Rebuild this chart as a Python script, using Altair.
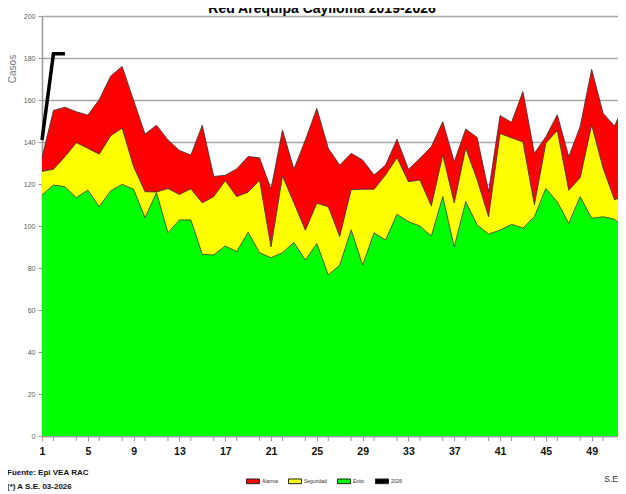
import altair as alt
import pandas as pd

# ---- data ----
weeks = list(range(1, 53))
exito = [114.8, 119.5, 118.7, 113.5, 117.1, 109.2, 116.8, 119.8, 117.5, 104.0,
         115.9, 96.8, 102.9, 102.9, 86.5, 86.2, 90.5, 87.8, 97.0, 87.3,
         84.9, 87.3, 92.2, 83.8, 91.7, 76.7, 81.4, 98.2, 81.4, 96.8,
         93.3, 105.6, 102.1, 100.0, 95.2, 114.0, 90.0, 111.6, 100.5, 96.2,
         98.0, 100.8, 99.0, 104.4, 117.9, 111.5, 101.3, 114.0, 103.7, 104.4,
         103.2, 98.9]
seguridad = [126.0, 127.0, 133.0, 139.7, 137.0, 134.2, 143.0, 146.6, 128.2, 116.3,
             116.2, 117.8, 115.0, 117.7, 111.0, 114.0, 121.6, 114.0, 116.1, 121.8,
             90.0, 123.8, 111.0, 98.0, 110.8, 109.2, 95.0, 117.3, 117.5, 117.5,
             124.3, 132.5, 121.1, 121.9, 109.5, 133.8, 111.0, 137.0, 122.0, 104.4,
             144.0, 142.0, 140.0, 110.0, 139.4, 145.5, 117.0, 123.0, 148.1, 127.5,
             112.4, 114.8]
alarma = [132.7, 155.0, 156.6, 154.4, 152.8, 160.2, 171.4, 176.0, 159.8, 143.8,
          148.0, 141.0, 136.0, 133.8, 148.0, 123.6, 124.2, 127.2, 133.1, 132.5,
          117.6, 145.7, 127.1, 141.0, 156.0, 137.0, 129.0, 134.6, 131.4, 124.3,
          129.0, 141.3, 127.0, 132.2, 137.8, 149.7, 130.6, 146.2, 142.2, 116.5,
          152.6, 149.4, 164.0, 134.6, 142.5, 153.0, 133.0, 147.5, 174.6, 153.7,
          147.6, 160.0]
weeks_2026 = [1, 2, 3]
casos_2026 = [141, 182, 182]

series_names = ["Alarma", "Seguridad", "Exito", "2026"]
series_colors = ["#ff0000", "#ffff00", "#00ff00", "#000000"]
x_label_values = list(range(1, 52, 2))
tick_weeks = list(range(2, 52, 2))

# ---- tables ----
rows = []
for i, w in enumerate(weeks):
    rows.append({"se": w, "serie": "Exito", "lo": 0.0, "hi": exito[i]})
    rows.append({"se": w, "serie": "Seguridad", "lo": exito[i], "hi": seguridad[i]})
    rows.append({"se": w, "serie": "Alarma", "lo": seguridad[i], "hi": alarma[i]})
bands = pd.DataFrame(rows)
line26 = pd.DataFrame({"se": weeks_2026, "casos": casos_2026})
ticks = pd.DataFrame({"se": tick_weeks})

FONT = "Liberation Sans, Arial, sans-serif"

xscale = alt.Scale(domain=[1, 51.3], nice=False, zero=False)
yscale = alt.Scale(domain=[0, 200], nice=False)

x_axis = alt.Axis(values=x_label_values, title=None, grid=False,
                  domainColor="#9a9a9a", domainWidth=1.5,
                  tickColor="#9a9a9a", tickSize=5, labelFont=FONT, labelFontSize=10.5,
                  labelFontWeight="bold", labelColor="#111", labelPadding=5,
                  labelFlush=False, labelOverlap=False, format="d")
y_axis = alt.Axis(values=list(range(0, 201, 20)), title=None, grid=True,
                  gridColor="#a6a6a6", gridWidth=1.6, domainColor="#9a9a9a",
                  domainWidth=1.5, tickColor="#9a9a9a", tickSize=4,
                  labelFont=FONT, labelFontSize=7, labelColor="#595959", labelPadding=3)

legend = alt.Legend(orient="none", legendX=204, legendY=458, direction="horizontal",
                    title=None, symbolType="M-1,-0.36H1V0.36H-1Z", symbolSize=169,
                    symbolStrokeColor="#222", symbolStrokeWidth=1, symbolOpacity=1,
                    labelFont=FONT, labelFontSize=5, labelColor="#333",
                    labelOffset=2, columnPadding=8, padding=0)

areas = alt.Chart(bands).mark_area(clip=True, opacity=1).encode(
    x=alt.X("se:Q", scale=xscale, axis=x_axis),
    y=alt.Y("hi:Q", scale=yscale, axis=y_axis),
    y2="lo:Q",
    fill=alt.Fill("serie:N", scale=alt.Scale(domain=series_names, range=series_colors),
                  legend=legend),
    detail="serie:N",
)

edges = alt.Chart(bands).mark_line(clip=True, color="#333333", strokeWidth=0.8).encode(
    x=alt.X("se:Q", scale=xscale),
    y=alt.Y("hi:Q", scale=yscale),
    detail="serie:N",
)

even_ticks = alt.Chart(ticks).mark_rule(color="#9a9a9a", strokeWidth=1).encode(
    x=alt.X("se:Q", scale=xscale),
    y=alt.value(421),
    y2=alt.value(425),
)

l26 = alt.Chart(line26).mark_line(color="#000000", strokeWidth=3.5, strokeJoin="miter").encode(
    x=alt.X("se:Q", scale=xscale),
    y=alt.Y("casos:Q", scale=yscale),
)

def note(txt, x, y, size, weight="normal", align="left", color="#111", angle=0,
         baseline="middle"):
    return alt.Chart(pd.DataFrame({"t": [txt]})).mark_text(
        font=FONT, fontSize=size, fontWeight=weight, align=align,
        baseline=baseline, color=color, angle=angle
    ).encode(x=alt.value(x), y=alt.value(y), text="t:N")

title = note("Red Arequipa Caylloma 2019-2026", 280, -3, 14, weight="bold",
             align="center", color="#000", baseline="alphabetic")
ytitle = note("Casos", -29, 53, 10, color="#777", align="center", angle=270)
fuente = note("Fuente: Epi VEA RAC", -35, 457, 8, weight="bold")
asof = note("(*) A S.E. 03-2026", -35, 471, 8, weight="bold")
se = note("S.E", 576, 463, 8.5, align="right", color="#333")

chart = alt.layer(areas, edges, even_ticks, l26, title, ytitle, fuente, asof, se).properties(
    width=576, height=420,
    autosize=alt.AutoSizeParams(type="none"),
    padding={"left": 34, "top": 8, "right": 0, "bottom": 56},
).configure_view(stroke=None).configure(background="#ffffff")

chart.save("out.html", embed_options={"renderer": "svg", "actions": False})
